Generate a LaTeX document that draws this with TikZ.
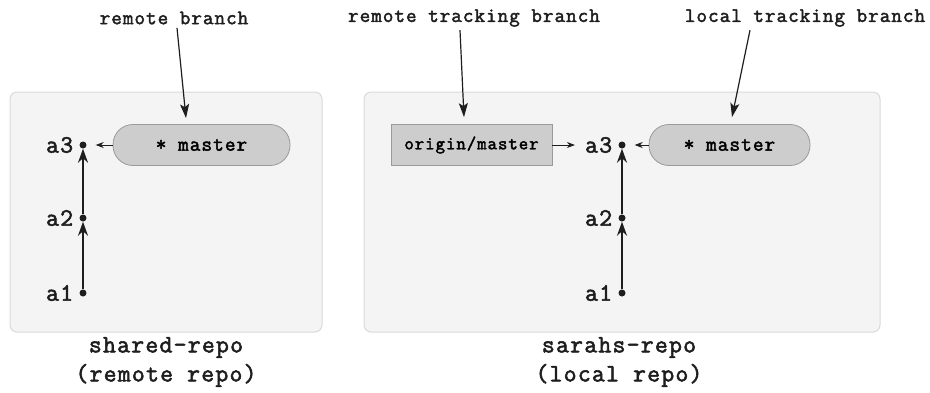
\documentclass[tikz,border=0pt]{standalone}
\usepackage{fontspec}
\setmonofont{Latin Modern Mono}[AutoFakeBold=2.2, LetterSpace=5]
\usetikzlibrary{arrows.meta, positioning}

\definecolor{boxfill}{HTML}{F4F4F4}
\definecolor{boxline}{HTML}{DADADA}
\definecolor{pillfill}{HTML}{CDCDCD}
\definecolor{pillline}{HTML}{9A9A9A}
\definecolor{ink}{HTML}{1E1E1E}

\tikzset{
  repo/.style={draw=boxline, fill=boxfill, rounded corners=7pt, line width=1pt},
  pill/.style={draw=pillline, fill=pillfill, rounded corners=20pt, line width=0.8pt,
    minimum height=41pt, font=\ttfamily\bfseries\fontsize{20.7}{22}\selectfont},
  rtbox/.style={draw=pillline, fill=pillfill, line width=0.8pt,
    minimum height=41pt, font=\ttfamily\bfseries\fontsize{18.4}{22}\selectfont},
  commit/.style={circle, fill=ink, inner sep=0pt, minimum size=7pt},
  clabel/.style={font=\ttfamily\bfseries\fontsize{25}{26}\selectfont, text=ink, inner sep=1pt},
  note/.style={font=\ttfamily\bfseries\fontsize{20.5}{22}\selectfont, text=ink},
  title/.style={font=\ttfamily\bfseries\fontsize{25}{29}\selectfont, text=ink, align=center},
  parent/.style={draw=ink, line width=1.4pt, -{Stealth[length=14pt, width=10pt, inset=4.5pt]}},
  ptr/.style={draw=ink, line width=0.8pt, -{Stealth[length=8pt, width=6pt]}},
  callout/.style={draw=ink, line width=1.2pt, -{Stealth[length=14pt, width=9pt, inset=3pt]}}
}

\begin{document}
\begin{tikzpicture}[x=1pt, y=-1pt]
\useasboundingbox (0,0) rectangle (930,392);

% shared repo
\node[repo, minimum width=312pt, minimum height=240pt] (shared) at (166,212) {};
\node[title] (sharedname) at (166,362) {shared-repo\\(remote repo)};
\node[commit] (L1) at (83,293) {};
\node[commit] (L2) at (83,218) {};
\node[commit] (L3) at (83,145) {};
\node[clabel, left=5pt of L1] {a1};
\node[clabel, left=5pt of L2] {a2};
\node[clabel, left=5pt of L3] {a3};
\draw[parent] (L1) -- (L2);
\draw[parent] (L2) -- (L3);
\node[pill, minimum width=177pt] (lmaster) at (201.5,145) {* master};
\draw[ptr, shorten >=9pt] (lmaster) -- (L3);
\node[note] (remotebr) at (174,18) {remote branch};
\draw[callout] (remotebr.south -| 177,0) -- ([yshift=6pt]lmaster.north -| 186,0);

% sarahs repo
\node[repo, minimum width=516pt, minimum height=240pt] (sarahs) at (622,212) {};
\node[title] (sarahsname) at (619,362) {sarahs-repo\\(local repo)};
\node[commit] (R1) at (622,293) {};
\node[commit] (R2) at (622,218) {};
\node[commit] (R3) at (622,145) {};
\node[clabel, left=5pt of R1] {a1};
\node[clabel, left=5pt of R2] {a2};
\node[clabel, left=5pt of R3] (R3t) {a3};
\draw[parent] (R1) -- (R2);
\draw[parent] (R2) -- (R3);
\node[pill, minimum width=161pt] (rmaster) at (729.5,145) {* master};
\draw[ptr, shorten >=9pt] (rmaster) -- (R3);
\node[rtbox, minimum width=161pt] (origin) at (471.5,145) {origin/master};
\draw[ptr, shorten >=9pt] (origin) -- (R3t);
\node[note] (rtrack) at (474,18) {remote tracking branch};
\node[note] (ltrack) at (805,18) {local tracking branch};
\draw[callout] (rtrack.south -| 460,0) -- ([yshift=7pt]origin.north -| 464,0);
\draw[callout] (ltrack.south -| 750,0) -- ([yshift=7pt]rmaster.north -| 732,0);
\end{tikzpicture}
\end{document}
